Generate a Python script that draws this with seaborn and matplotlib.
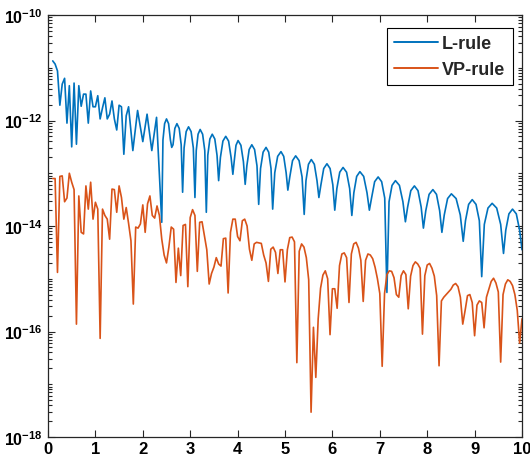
import numpy as np
import pandas as pd
import matplotlib
matplotlib.use("Agg")
import matplotlib.pyplot as plt
import seaborn as sns
from matplotlib.ticker import LogLocator, NullFormatter, FixedLocator

# Error of the L-rule quadrature (abscissa, log10 of error)
x_L = [0.10, 0.15, 0.20, 0.25, 0.30, 0.35, 0.40, 0.45, 0.50, 0.55, 0.60, 0.65,
       0.70, 0.75, 0.80, 0.85, 0.90, 0.95, 1.00, 1.05, 1.10, 1.15, 1.20, 1.25,
       1.30, 1.35, 1.40, 1.45, 1.50, 1.55, 1.60, 1.65, 1.70,
       1.79, 1.89, 2.00, 2.09, 2.19, 2.29,
       2.40, 2.425, 2.46, 2.50, 2.544, 2.5825,
       2.61, 2.6375, 2.676, 2.72, 2.768, 2.81,
       2.84, 2.871, 2.915, 2.965, 3.019, 3.066,
       3.10, 3.1275, 3.166, 3.21, 3.262, 3.3075,
       3.34, 3.371, 3.415, 3.465, 3.519, 3.566,
       3.60, 3.6375, 3.69, 3.75, 3.81, 3.8625,
       3.90, 3.9275, 3.966, 4.01, 4.07, 4.1225,
       4.16, 4.195, 4.244, 4.30, 4.358, 4.409,
       4.445, 4.484, 4.538, 4.60, 4.656, 4.705,
       4.74, 4.784, 4.845, 4.915, 4.973, 5.024,
       5.06, 5.101, 5.159, 5.225, 5.297, 5.36,
       5.405, 5.4425, 5.495, 5.555, 5.619, 5.675,
       5.715, 5.7575, 5.817, 5.885, 5.951, 6.009,
       6.05, 6.094, 6.155, 6.225, 6.299, 6.364,
       6.41, 6.4525, 6.512, 6.58, 6.66, 6.73,
       6.78, 6.826, 6.891, 6.965, 7.039, 7.104,
       7.15, 7.195, 7.258, 7.33, 7.414, 7.4875,
       7.54, 7.5875, 7.654, 7.73, 7.806, 7.8725,
       7.92, 7.97, 8.04, 8.12, 8.196, 8.2625,
       8.31, 8.36, 8.43, 8.51, 8.61, 8.6975,
       8.76, 8.8075, 8.874, 8.95, 9.03, 9.10,
       9.15, 9.205, 9.282, 9.37, 9.466, 9.55,
       9.61, 9.6575, 9.724, 9.80, 9.88, 9.95, 10.0]
log_L = [-10.87, -10.93, -11.06, -11.71, -11.31, -11.20, -12.05, -11.34, -12.50, -11.29, -12.45, -11.34,
         -11.73, -11.50, -11.50, -12.05, -11.44, -11.74, -11.74, -11.53, -11.97, -11.76, -11.57, -11.97,
         -11.88, -11.63, -11.97, -12.18, -11.71, -11.74, -12.64, -11.91, -11.74,
         -12.57, -11.81, -12.40, -11.88, -12.57, -11.94,
         -13.93, -12.37, -12.06, -11.97, -12.06, -12.37,
         -12.51, -12.46, -12.15, -12.06, -12.15, -12.46,
         -13.36, -12.52, -12.21, -12.12, -12.21, -12.52,
         -13.46, -12.57, -12.26, -12.17, -12.26, -12.57,
         -13.74, -12.66, -12.35, -12.26, -12.35, -12.66,
         -13.14, -12.70, -12.39, -12.30, -12.39, -12.70,
         -13.02, -12.78, -12.47, -12.38, -12.47, -12.78,
         -13.21, -12.86, -12.55, -12.46, -12.55, -12.86,
         -13.59, -12.91, -12.60, -12.51, -12.60, -12.91,
         -13.68, -12.99, -12.68, -12.59, -12.68, -12.99,
         -13.32, -13.07, -12.76, -12.67, -12.76, -13.07,
         -13.78, -13.14, -12.83, -12.74, -12.83, -13.14,
         -13.46, -13.22, -12.91, -12.82, -12.91, -13.22,
         -13.70, -13.29, -12.98, -12.89, -12.98, -13.29,
         -13.80, -13.37, -13.06, -12.97, -13.06, -13.37,
         -13.70, -13.47, -13.16, -13.07, -13.16, -13.47,
         -15.26, -13.54, -13.23, -13.14, -13.23, -13.54,
         -13.92, -13.64, -13.33, -13.24, -13.33, -13.64,
         -14.04, -13.71, -13.40, -13.31, -13.40, -13.71,
         -14.12, -13.79, -13.48, -13.39, -13.48, -13.79,
         -14.29, -13.90, -13.59, -13.50, -13.59, -13.90,
         -14.96, -13.97, -13.66, -13.57, -13.66, -13.97,
         -14.52, -14.08, -13.77, -13.68, -13.77, -14.08, -14.45]

# Error of the VP-rule quadrature, sampled every 0.05
x_VP = [round(0.10 + 0.05 * i, 2) for i in range(199)]
log_VP = [-13.10, -13.10, -14.88, -13.06, -13.05, -13.54, -13.47, -13.00, -13.17, -13.31,
          -15.86, -13.43, -14.12, -14.15, -13.24, -13.68, -13.17, -13.87, -13.55, -13.68,
          -16.13, -13.68, -13.80, -13.87, -14.25, -13.30, -13.31, -13.74, -13.24, -13.46,
          -13.87, -13.65, -13.95, -14.28, -15.48, -14.02, -14.04, -13.96, -13.60, -14.12,
          -13.58, -13.43, -13.80, -13.85, -13.62, -13.80, -14.25, -14.55, -14.70, -14.40,
          -14.02, -14.06, -15.07, -14.42, -14.94, -13.99, -13.97, -15.15, -13.84, -13.69,
          -13.80, -14.86, -13.93, -13.92, -14.18, -14.45, -15.10, -14.90, -14.78, -14.60,
          -14.72, -14.76, -14.24, -14.23, -15.27, -14.12, -13.87, -13.87, -14.20, -14.28,
          -13.90, -13.87, -14.00, -14.44, -14.65, -14.34, -14.31, -14.32, -14.33, -14.55,
          -14.70, -15.05, -14.44, -14.40, -14.50, -14.90, -14.45, -14.45, -15.06, -14.45,
          -14.22, -14.21, -14.30, -16.59, -14.48, -14.34, -14.40, -14.60, -15.02, -17.53,
          -15.92, -16.87, -15.76, -15.18, -14.93, -14.85, -15.00, -16.06, -15.19, -15.19,
          -15.56, -14.75, -14.53, -14.51, -14.60, -15.45, -14.53, -14.34, -14.31, -14.42,
          -14.65, -15.43, -14.65, -14.53, -14.55, -14.62, -14.78, -15.00, -15.28, -16.66,
          -15.28, -14.92, -14.85, -14.86, -14.98, -15.30, -15.35, -14.94, -14.85, -14.92,
          -15.57, -14.95, -14.75, -14.68, -14.72, -14.80, -16.05, -14.94, -14.74, -14.71,
          -14.80, -14.95, -15.32, -16.65, -15.42, -15.35, -15.30, -15.25, -15.20, -15.12,
          -15.09, -15.15, -15.35, -15.86, -15.60, -15.32, -15.30, -15.45, -16.08, -15.50,
          -15.42, -15.45, -15.93, -15.35, -15.20, -15.05, -14.99, -15.08, -15.25, -16.58,
          -15.30, -15.10, -15.02, -15.05, -15.13, -15.30, -15.60, -16.22, -15.76]

series_names = ["L-rule", "VP-rule"]
series_colors = ["#0072BD", "#D95319"]
x_ticks = list(range(0, 11))
y_tick_exps = [-18, -16, -14, -12, -10]

df = pd.concat([
    pd.DataFrame({"x": x_L, "err": np.power(10.0, log_L), "rule": series_names[0]}),
    pd.DataFrame({"x": x_VP, "err": np.power(10.0, log_VP), "rule": series_names[1]}),
], ignore_index=True)

sns.set_theme(style="ticks")
plt.rcParams.update({
    "font.family": ["Liberation Sans", "DejaVu Sans"],
    "font.weight": "bold",
    "mathtext.fontset": "custom",
    "mathtext.rm": "Liberation Sans:bold",
    "mathtext.bf": "Liberation Sans:bold",
    "mathtext.it": "Liberation Sans:bold",
    "mathtext.sf": "Liberation Sans:bold",
    "mathtext.default": "rm",
})

fig = plt.figure(figsize=(5.30, 4.64), dpi=100)
ax = fig.add_axes([48 / 530, 26 / 464, 474 / 530, 422 / 464])

sns.lineplot(data=df, x="x", y="err", hue="rule", hue_order=series_names,
             palette=dict(zip(series_names, series_colors)),
             estimator=None, sort=False, linewidth=1.2, ax=ax)

ax.set_yscale("log")
ax.set_xlim(0, 10)
ax.set_ylim(1e-18, 1e-10)
ax.set_xlabel("")
ax.set_ylabel("")

ax.xaxis.set_major_locator(FixedLocator(x_ticks))
ax.set_xticklabels([str(t) for t in x_ticks], fontsize=12, fontweight="bold")
ax.yaxis.set_major_locator(FixedLocator([10.0 ** e for e in y_tick_exps]))
ax.set_yticklabels([r"$10^{%d}$" % e for e in y_tick_exps], fontsize=11.5)
ax.yaxis.set_minor_locator(LogLocator(base=10, subs=np.arange(1, 10), numticks=100))
ax.yaxis.set_minor_formatter(NullFormatter())

ax.tick_params(which="both", direction="in", top=True, right=True, color="#262626",
               width=0.8, labelcolor="black")
ax.tick_params(which="major", length=5, pad=3)
ax.tick_params(which="minor", length=3)
ax.tick_params(axis="y", which="major", pad=4)
for side in ax.spines.values():
    side.set_color("#262626")
    side.set_linewidth(0.9)

leg = ax.legend(loc="upper right", bbox_to_anchor=(0.98, 0.97), frameon=True,
                fancybox=False, edgecolor="black", framealpha=1,
                prop={"weight": "bold", "size": 13}, handlelength=2.4,
                handletextpad=0.25, borderpad=0.4, labelspacing=0.5, borderaxespad=0)
leg.get_frame().set_linewidth(0.8)
for line in leg.get_lines():
    line.set_linewidth(1.4)

fig.savefig("out.png", dpi=100)
